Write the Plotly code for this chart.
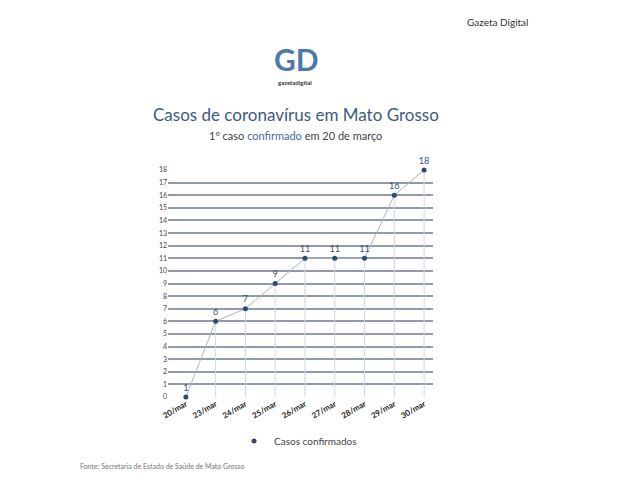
import plotly.graph_objects as go

categories = ["20/mar", "23/mar", "24/mar", "25/mar", "26/mar", "27/mar", "28/mar", "29/mar", "30/mar"]
cases = [0, 6, 7, 9, 11, 11, 11, 16, 18]
labels = ["1", "6", "7", "9", "11", "11", "11", "16", "18"]
y_ticks = list(range(0, 19))

FONT = "Lato"
NAVY = "#2b4a70"
OFF = 8  # page body margin offset
W, H = 640, 480
L, R, T, B = 168 - OFF, 207 + OFF, 170 - OFF, 83 + OFF


def px_x(px):
    return (px - OFF - L) / (W - L - R)


def px_y(py):
    return (H - B - (py - OFF)) / (H - T - B)


fig = go.Figure()

fig.add_trace(go.Scatter(
    x=categories, y=cases, mode="lines",
    line=dict(color="#aab3c2", width=1),
    error_y=dict(type="data", symmetric=False, array=[0] * len(cases), arrayminus=cases,
                 width=0, color="#ccd7e8", thickness=1),
    showlegend=False, hoverinfo="skip", cliponaxis=False,
))
fig.add_trace(go.Scatter(
    x=categories, y=cases, mode="markers+text", name="Casos confirmados",
    marker=dict(color=NAVY, size=5),
    text=labels, textposition="top center",
    textfont=dict(family=FONT, size=9, color="#34527a"),
    cliponaxis=False,
))


def ann(text, x, y, size, color, xanchor="center"):
    return dict(text=text, x=px_x(x), y=px_y(y), xref="paper", yref="paper", showarrow=False,
                xanchor=xanchor, yanchor="middle", font=dict(family=FONT, size=size, color=color))


fig.update_layout(
    width=W, height=H,
    paper_bgcolor="white", plot_bgcolor="white",
    margin=dict(l=L, r=R, t=T, b=B),
    font=dict(family=FONT, color="#333333"),
    showlegend=True,
    legend=dict(orientation="h", x=px_x(298), xanchor="center", xref="paper",
                y=px_y(441), yanchor="middle", font=dict(family=FONT, size=10, color="#444444"),
                itemwidth=30),
    xaxis=dict(type="category", range=[-0.6, 8.3], showgrid=False, zeroline=False,
               showline=False, tickangle=-30,
               tickfont=dict(family=FONT, size=8, color="#222222", weight="bold"),
               ticks=""),
    yaxis=dict(range=[0, 18], tickvals=y_ticks, showgrid=True, gridcolor="#8f9aab", gridwidth=2,
               zeroline=False, showline=False, ticks="", ticklen=0,
               tickfont=dict(family=FONT, size=7, color="#444444")),
    annotations=[
        ann("Casos de coronavírus em Mato Grosso", 296, 114, 17, "#3b5b82"),
        ann("1º caso <span style='color:#3f6aa6'>confirmado</span> em 20 de março", 295, 136, 11, "#444444"),
        ann("<b>GD</b>", 296, 59, 30, "#4d78ad"),
        ann("<b>gazetadigital</b>", 295, 83, 6, "#333333"),
        ann("Gazeta Digital", 497, 22, 10, "#333333"),
        ann("Fonte: Secretaria de Estado de Saúde de Mato Grosso", 78, 466, 7, "#777777", xanchor="left"),
    ],
)

fig.write_html("out.html")
